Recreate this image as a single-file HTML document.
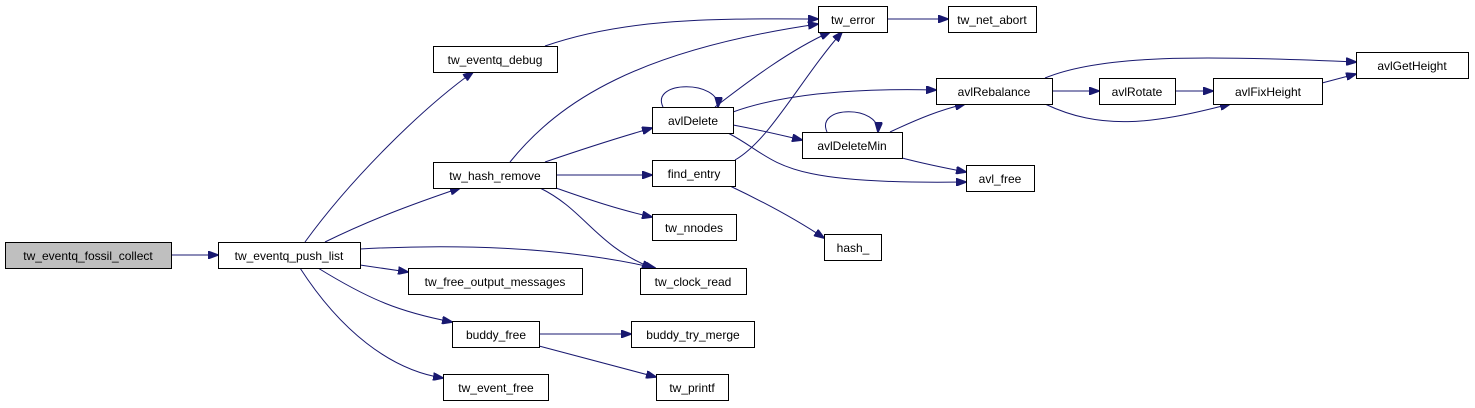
<!DOCTYPE html>
<html><head><meta charset="utf-8"><style>
html,body{margin:0;padding:0;background:#fff;}
svg{display:block;}
text{font-family:"Liberation Sans",sans-serif;font-size:12px;fill:#000;}
</style></head><body>
<svg width="1475" height="408" viewBox="0 0 1475 408" xmlns="http://www.w3.org/2000/svg">
<defs>
<marker id="a" markerWidth="11" markerHeight="8" refX="10" refY="4" orient="auto" markerUnits="userSpaceOnUse">
<path d="M0,0 L11,4 L0,8 z" fill="#191970" stroke="#191970"/>
</marker>
</defs>
<g fill="none" stroke="#191970" stroke-width="1" marker-end="url(#a)">
<path d="M171,255 L218,255"/>
<path d="M305,242 C350,180 420,110 473,72"/>
<path d="M325,242 C370,220 410,205 460,188"/>
<path d="M360,249 C450,244 560,246 655,268"/>
<path d="M360,265 L408,272"/>
<path d="M318,268 C370,300 400,312 452,322"/>
<path d="M300,268 C340,330 390,370 443,378"/>
<path d="M539,334 L631,334"/>
<path d="M539,346 L656,377"/>
<path d="M545,46 C620,20 700,18 818,19"/>
<path d="M510,162 C560,100 640,50 818,24"/>
<path d="M545,162 C580,150 610,140 652,128"/>
<path d="M556,175 L652,175"/>
<path d="M556,188 C590,200 620,210 652,217"/>
<path d="M540,188 C585,210 595,245 652,268"/>
<path d="M715,107 C750,80 790,50 830,32"/>
<path d="M663,107 C650,80 720,80 718,107"/>
<path d="M733,112 C780,95 850,88 936,90"/>
<path d="M733,125 C760,130 780,135 802,140"/>
<path d="M728,133 C780,160 770,185 966,182"/>
<path d="M735,160 C770,140 800,80 842,32"/>
<path d="M730,186 C770,205 800,222 824,238"/>
<path d="M827,132 C815,105 880,105 878,132"/>
<path d="M890,132 C920,118 940,110 965,104"/>
<path d="M902,158 C925,164 945,168 966,172"/>
<path d="M887,19 L948,19"/>
<path d="M1052,91 L1099,91"/>
<path d="M1045,78 C1100,55 1200,55 1356,62"/>
<path d="M1045,104 C1100,130 1150,125 1230,104"/>
<path d="M1175,91 L1213,91"/>
<path d="M1322,83 L1356,74"/>
</g>
<g stroke="#000" stroke-width="1">
<rect x="5.5" y="242.5" width="166" height="26" fill="#bfbfbf"/>
<rect x="218.5" y="242.5" width="142" height="26" fill="#fff"/>
<rect x="433.5" y="46.5" width="124" height="26" fill="#fff"/>
<rect x="433.5" y="162.5" width="123" height="26" fill="#fff"/>
<rect x="408.5" y="268.5" width="174" height="26" fill="#fff"/>
<rect x="452.5" y="321.5" width="87" height="26" fill="#fff"/>
<rect x="443.5" y="374.5" width="105" height="26" fill="#fff"/>
<rect x="818.5" y="6.5" width="69" height="26" fill="#fff"/>
<rect x="948.5" y="6.5" width="88" height="26" fill="#fff"/>
<rect x="652.5" y="107.5" width="81" height="26" fill="#fff"/>
<rect x="652.5" y="160.5" width="83" height="26" fill="#fff"/>
<rect x="652.5" y="214.5" width="84" height="26" fill="#fff"/>
<rect x="640.5" y="268.5" width="106" height="26" fill="#fff"/>
<rect x="631.5" y="321.5" width="123" height="26" fill="#fff"/>
<rect x="656.5" y="374.5" width="72" height="26" fill="#fff"/>
<rect x="802.5" y="132.5" width="100" height="26" fill="#fff"/>
<rect x="824.5" y="234.5" width="57" height="26" fill="#fff"/>
<rect x="936.5" y="78.5" width="116" height="26" fill="#fff"/>
<rect x="966.5" y="165.5" width="68" height="26" fill="#fff"/>
<rect x="1099.5" y="78.5" width="76" height="26" fill="#fff"/>
<rect x="1213.5" y="78.5" width="109" height="26" fill="#fff"/>
<rect x="1356.5" y="52.5" width="112" height="26" fill="#fff"/>
</g>
<g text-anchor="middle">
<text x="88" y="260">tw_eventq_fossil_collect</text>
<text x="289" y="260">tw_eventq_push_list</text>
<text x="495" y="64">tw_eventq_debug</text>
<text x="495" y="180">tw_hash_remove</text>
<text x="495" y="286">tw_free_output_messages</text>
<text x="496" y="339">buddy_free</text>
<text x="496" y="392">tw_event_free</text>
<text x="853" y="24">tw_error</text>
<text x="992" y="24">tw_net_abort</text>
<text x="693" y="125">avlDelete</text>
<text x="694" y="178">find_entry</text>
<text x="694" y="232">tw_nnodes</text>
<text x="693" y="286">tw_clock_read</text>
<text x="693" y="339">buddy_try_merge</text>
<text x="692" y="392">tw_printf</text>
<text x="852" y="150">avlDeleteMin</text>
<text x="853" y="252">hash_</text>
<text x="994" y="96">avlRebalance</text>
<text x="1000" y="183">avl_free</text>
<text x="1137" y="96">avlRotate</text>
<text x="1268" y="96">avlFixHeight</text>
<text x="1412" y="70">avlGetHeight</text>
</g>
</svg>
</body></html>
